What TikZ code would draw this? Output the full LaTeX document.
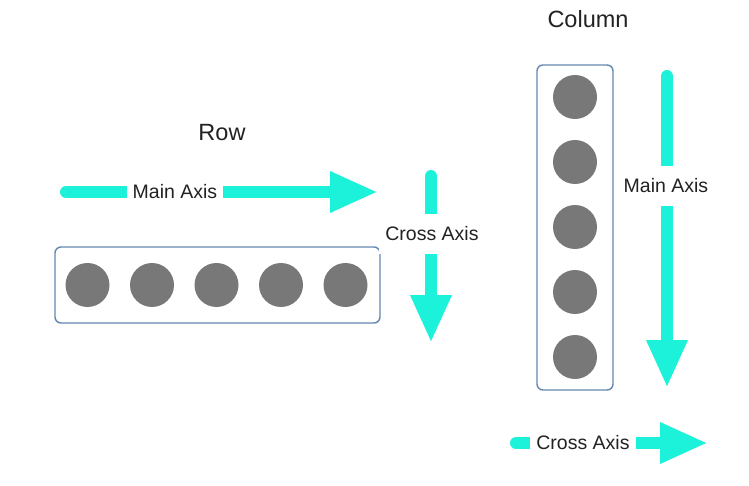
\documentclass[tikz,border=0pt]{standalone}
\usepackage{fontspec}
\setmainfont{Liberation Sans}
\usetikzlibrary{arrows.meta}
\definecolor{axiscyan}{RGB}{28,242,218}
\definecolor{boxblue}{RGB}{100,135,175}
\definecolor{dotgray}{RGB}{120,120,120}
\definecolor{inkgray}{RGB}{34,34,34}
\tikzset{
  axis/.style={draw=axiscyan, line width=12pt, line cap=round,
    -{Triangle[length=48pt,width=38pt,fill=axiscyan]}},
  axislabel/.style={fill=white, text=inkgray, font=\fontsize{19.5}{22}\selectfont, inner xsep=6pt},
  vlabel/.style={axislabel, inner ysep=12.5pt},
  title/.style={text=inkgray, font=\fontsize{23.5}{26}\selectfont},
  box/.style={draw=boxblue, line width=1.4pt, rounded corners=6pt},
  dot/.style={circle, fill=dotgray, minimum size=44pt, inner sep=0pt}
}
\begin{document}
\begin{tikzpicture}[x=1pt, y=-1pt]
  \useasboundingbox (0,0) rectangle (749,486);

  % row
  \node[title] (rowtitle) at (222,133) {Row};
  \node[box, minimum width=325pt, minimum height=76pt] (rowbox) at (217.5,285) {};
  \foreach \i in {0,...,4}
    \node[dot] (r\i) at (87.5+64.5*\i,285) {};

  \coordinate (rmain0) at (66,192);
  \coordinate (rmain1) at (378,192);
  \draw[axis] (rmain0) -- (rmain1);
  \node[axislabel] (rmainlab) at (175,192) {Main Axis};

  \coordinate (rcross0) at (431,176);
  \coordinate (rcross1) at (431,343);
  \draw[axis] (rcross0) -- (rcross1);
  \node[vlabel] (rcrosslab) at (432,234) {Cross Axis};

  % column
  \node[title] (coltitle) at (588,19) {Column};
  \node[box, minimum width=76pt, minimum height=325pt] (colbox) at (575,227.5) {};
  \foreach \i in {0,...,4}
    \node[dot] (c\i) at (575,97+65*\i) {};

  \coordinate (cmain0) at (667,76);
  \coordinate (cmain1) at (667,388);
  \draw[axis] (cmain0) -- (cmain1);
  \node[vlabel] (cmainlab) at (666,186) {Main Axis};

  \coordinate (ccross0) at (516,443);
  \coordinate (ccross1) at (708,443);
  \draw[axis] (ccross0) -- (ccross1);
  \node[axislabel] (ccrosslab) at (583,443) {Cross Axis};
\end{tikzpicture}
\end{document}
